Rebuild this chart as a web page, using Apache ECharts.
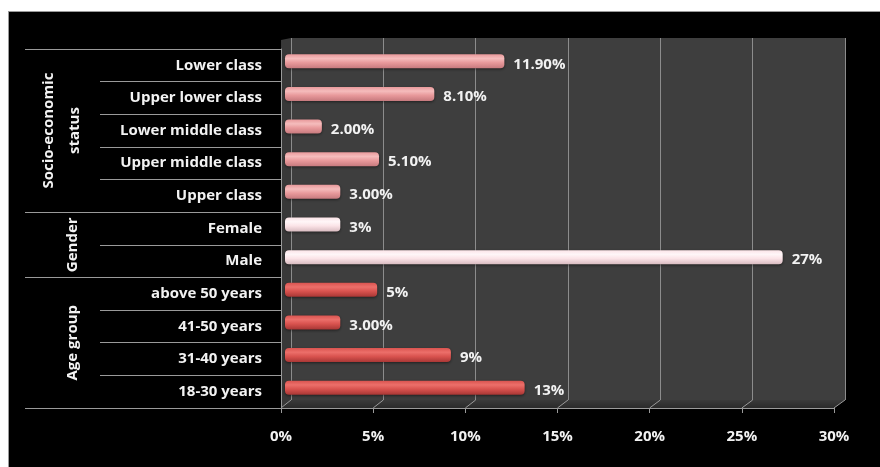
<!DOCTYPE html>
<html>
<head>
<meta charset="utf-8">
<script src="https://cdn.jsdelivr.net/npm/echarts@6/dist/echarts.min.js"></script>
<style>
html,body{margin:0;padding:0;background:#fff;}
#bg{position:absolute;left:8px;top:11px;width:872px;height:456px;background:#000;border-left:1px solid #9a9a9a;border-top:1px solid #9a9a9a;box-sizing:border-box;}
#main{position:absolute;left:0;top:0;width:880px;height:467px;}
</style>
</head>
<body>
<div id="bg"></div>
<div id="main"></div>
<script>
// ---- data (top to bottom, as displayed) ----
var categories = ['Lower class','Upper lower class','Lower middle class','Upper middle class','Upper class','Female','Male','above 50 years','41-50 years','31-40 years','18-30 years'];
var values = [11.9, 8.1, 2.0, 5.1, 3.0, 3, 27, 5, 3, 9, 13];
var valueLabels = ['11.90%','8.10%','2.00%','5.10%','3.00%','3%','27%','5%','3.00%','9%','13%'];
var groupNames = ['Socio-economic\nstatus','Gender','Age group'];
var groupSizes = [5, 2, 4];
var xTicks = [0, 5, 10, 15, 20, 25, 30];

var FONT = '"Open Sans", "DejaVu Sans", sans-serif';
var FS = 15;
var palettes = [
  ['#f5bcbc','#e8999b','#c77a7e'],
  ['#fff6f8','#fbe3e7','#d9bcc1'],
  ['#ec6f6a','#d9534f','#a93735']
];
function grad(p){
  return new echarts.graphic.LinearGradient(0,0,0,1,[
    {offset:0,color:p[1]},{offset:0.3,color:p[0]},{offset:0.6,color:p[1]},{offset:1,color:p[2]}
  ]);
}
var groupOf = [];
groupSizes.forEach(function(n,g){ for(var i=0;i<n;i++) groupOf.push(g); });
var groupStarts = [];
(function(){ var s=0; groupSizes.forEach(function(n){ groupStarts.push(s); s+=n; }); })();

var barData = values.map(function(v,i){
  return {value:v, itemStyle:{color:grad(palettes[groupOf[i]]), borderRadius:4, shadowColor:'rgba(0,0,0,0.5)', shadowBlur:3, shadowOffsetY:1}};
});

var chart = echarts.init(document.getElementById('main'), null, {renderer:'canvas'});
var option = {
  backgroundColor:'transparent',
  animation:false,
  grid:[
    {left:291, right:35, top:38, bottom:67, show:true, backgroundColor:'#3e3e3e', borderWidth:0},
    {left:281, right:46, top:49, bottom:59, show:false},
    {left:285, right:42, top:45, bottom:63, show:false}
  ],
  xAxis:[
    {gridIndex:0, type:'value', min:xTicks[0], max:xTicks[xTicks.length-1], interval:5,
     axisLabel:{show:false}, axisLine:{show:false}, axisTick:{show:false},
     splitLine:{show:true, lineStyle:{color:'#8c8c8c', width:1}}},
    {gridIndex:1, type:'value', min:xTicks[0], max:xTicks[xTicks.length-1], interval:5,
     axisLabel:{show:true, color:'#f2f2f2', fontFamily:FONT, fontWeight:'bold', fontSize:FS, margin:21,
       formatter:function(v){return v+'%';}},
     axisLine:{show:true, lineStyle:{color:'#9a9a9a', width:1}},
     axisTick:{show:true, length:5, lineStyle:{color:'#9a9a9a'}},
     splitLine:{show:false}},
    {gridIndex:2, type:'value', min:xTicks[0], max:xTicks[xTicks.length-1], show:false}
  ],
  yAxis:[
    {gridIndex:0, type:'category', data:categories, inverse:true, show:false},
    {gridIndex:1, type:'category', data:categories, inverse:true, position:'left',
     axisLabel:{show:true, color:'#f2f2f2', fontFamily:FONT, fontWeight:'bold', fontSize:FS, margin:19},
     axisLine:{show:true, lineStyle:{color:'#9a9a9a'}},
     axisTick:{show:true, length:181, lineStyle:{color:'#9a9a9a'}}},
    {gridIndex:1, type:'category', data:categories, inverse:true, position:'left', offset:0,
     axisLabel:{show:false}, axisLine:{show:false},
     axisTick:{show:true, length:256, lineStyle:{color:'#9a9a9a'},
       interval:function(idx){ return groupStarts.indexOf(idx) >= 0; }}},
    {gridIndex:2, type:'category', data:categories, inverse:true, show:false}
  ],
  series:[{
    type:'bar', xAxisIndex:2, yAxisIndex:3, barWidth:14, data:barData,
    label:{show:true, position:'right', distance:9, offset:[0,3], color:'#f2f2f2',
      fontFamily:FONT, fontWeight:'bold', fontSize:FS,
      formatter:function(p){return valueLabels[p.dataIndex];}}
  }]
};
chart.setOption(option);

// decoration: side wall, floor and depth edges, positioned from the axes
var gfx = [];
var fx0 = chart.convertToPixel({xAxisIndex:1}, xTicks[0]);
var bx0 = chart.convertToPixel({xAxisIndex:0}, xTicks[0]);
var bxN = chart.convertToPixel({xAxisIndex:0}, xTicks[xTicks.length-1]);
var fyBot = chart.convertToPixel({yAxisIndex:1}, categories[categories.length-1]) + 16.3;
var byBot = chart.convertToPixel({yAxisIndex:0}, categories[categories.length-1]) + 16.45;
var byTop = chart.convertToPixel({yAxisIndex:0}, categories[0]) - 16.45;
// left wall
gfx.push({type:'polygon', z:-1, shape:{points:[[fx0,byTop+2],[bx0,byTop],[bx0,byBot],[fx0,fyBot]]}, style:{fill:'#383838'}});
// floor
var fxN = chart.convertToPixel({xAxisIndex:1}, xTicks[xTicks.length-1]);
gfx.push({type:'polygon', z:-1, shape:{points:[[fx0,fyBot],[bx0,byBot],[bxN,byBot],[fxN,fyBot]]},
  style:{fill:new echarts.graphic.LinearGradient(0,0,0,1,[{offset:0,color:'#3a3a3a'},{offset:1,color:'#2a2a2a'}])}});
xTicks.forEach(function(t){
  var fx = chart.convertToPixel({xAxisIndex:1}, t);
  var bx = chart.convertToPixel({xAxisIndex:0}, t);
  gfx.push({type:'line', z:5, shape:{x1:fx, y1:fyBot, x2:bx, y2:byBot}, style:{stroke:'#9a9a9a', lineWidth:1}});
});
// bottom group boundary of the table
gfx.push({type:'line', z:5, shape:{x1:fx0-256, y1:Math.round(fyBot)+0.5, x2:fx0, y2:Math.round(fyBot)+0.5}, style:{stroke:'#9a9a9a', lineWidth:1}});
// group labels
groupNames.forEach(function(name,g){
  var first = categories[groupStarts[g]];
  var last = categories[groupStarts[g]+groupSizes[g]-1];
  var y1 = chart.convertToPixel({yAxisIndex:1}, first);
  var y2 = chart.convertToPixel({yAxisIndex:1}, last);
  gfx.push({type:'text', x: name.indexOf('\n')>=0 ? 62 : 73, y:(y1+y2)/2, rotation:Math.PI/2,
    style:{text:name, fill:'#f2f2f2', font:'bold '+FS+'px '+FONT, align:'center', verticalAlign:'middle', lineHeight:26}});
});
chart.setOption({graphic:gfx});
</script>
</body>
</html>
